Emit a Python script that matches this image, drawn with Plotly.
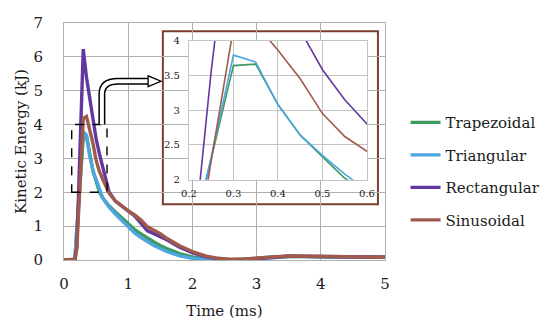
import plotly.graph_objects as go

# ---- data ----
time_ms = [0, 0.1, 0.17, 0.2, 0.25, 0.3, 0.35, 0.4, 0.45, 0.5, 0.55, 0.6, 0.65, 0.7,
           0.8, 0.9, 1.0, 1.1, 1.2, 1.3, 1.4, 1.5, 1.6, 1.8, 2.0, 2.2, 2.4, 2.6,
           2.8, 3.0, 3.25, 3.5, 3.75, 4.0, 4.5, 5.0]

trapezoidal = [0, 0, 0.03, 0.95, 2.30, 3.64, 3.66, 3.08, 2.64, 2.33, 2.02, 1.84, 1.71, 1.60,
               1.42, 1.24, 1.05, 0.90, 0.77, 0.64, 0.53, 0.43, 0.34, 0.19, 0.09, 0.04, 0.01, 0.01,
               0.02, 0.05, 0.09, 0.11, 0.10, 0.09, 0.08, 0.08]

triangular = [0, 0, 0.03, 0.95, 2.32, 3.79, 3.69, 3.08, 2.64, 2.35, 2.08, 1.85, 1.70, 1.57,
              1.36, 1.17, 0.96, 0.80, 0.66, 0.53, 0.43, 0.34, 0.25, 0.12, 0.05, 0.02, 0.00, 0.00,
              0.01, 0.04, 0.08, 0.10, 0.10, 0.09, 0.08, 0.08]

rectangular = [0, 0, 0.0, 0.40, 3.55, 6.23, 5.40, 4.75, 4.15, 3.58, 3.15, 2.80, 2.40, 2.02,
               1.74, 1.58, 1.45, 1.30, 1.08, 0.86, 0.78, 0.70, 0.60, 0.38, 0.22, 0.10, 0.04, 0.01,
               0.01, 0.04, 0.08, 0.11, 0.11, 0.10, 0.09, 0.08]

sinusoidal = [0, 0, 0.02, 0.35, 2.27, 4.18, 4.24, 3.86, 3.45, 2.95, 2.62, 2.40, 2.20, 1.98,
              1.74, 1.58, 1.45, 1.33, 1.18, 0.98, 0.88, 0.78, 0.64, 0.42, 0.25, 0.12, 0.05, 0.02,
              0.03, 0.05, 0.09, 0.12, 0.11, 0.10, 0.09, 0.08]

series_names = ["Trapezoidal", "Triangular", "Rectangular", "Sinusoidal"]
series_values = [trapezoidal, triangular, rectangular, sinusoidal]
series_colors = ["#3C9A5F", "#4DA6DF", "#6237A0", "#A05A4C"]

main_xticks = [0, 1, 2, 3, 4, 5]
main_yticks = [0, 1, 2, 3, 4, 5, 6, 7]
inset_xticks = [0.2, 0.3, 0.4, 0.5, 0.6]
inset_yticks = [2, 2.5, 3, 3.5, 4]

FONT = "DejaVu Serif"
GRID = "#B0B0B0"
FRAME = "#7B3F2E"

fig = go.Figure()

for name, vals, col in zip(series_names, series_values, series_colors):
    fig.add_trace(go.Scatter(x=time_ms, y=vals, mode="lines", name=name,
                             line=dict(color=col, width=3.4),
                             legendgroup=name, xaxis="x", yaxis="y"))

for name, vals, col in zip(series_names, series_values, series_colors):
    fig.add_trace(go.Scatter(x=time_ms, y=vals, mode="lines", name=name,
                             line=dict(color=col, width=1.6), showlegend=False,
                             xaxis="x2", yaxis="y2"))

# inset frame (white card with brown border), drawn under traces of main plot
fig.add_shape(type="rect", xref="x", yref="y", x0=1.54, x1=4.89, y0=1.65, y1=6.76,
              fillcolor="white", line=dict(color=FRAME, width=2), layer="below")

# dashed zoom box
fig.add_shape(type="rect", xref="x", yref="y", x0=0.12, x1=0.67, y0=2, y1=4,
              line=dict(color="black", width=1.4, dash="dash"), layer="above")

# curved arrow
arrow_path = "M 0.59,4 L 0.59,4.9 Q 0.59,5.28 0.84,5.28 L 1.33,5.28"
fig.add_shape(type="path", xref="x", yref="y", path=arrow_path,
              line=dict(color="black", width=7), layer="above")
fig.add_shape(type="path", xref="x", yref="y", path=arrow_path,
              line=dict(color="white", width=4), layer="above")
fig.add_shape(type="path", xref="x", yref="y",
              path="M 1.31,5.12 L 1.51,5.28 L 1.31,5.44 Z",
              fillcolor="white", line=dict(color="black", width=1.3), layer="above")

axis_common = dict(showgrid=True, gridcolor=GRID, gridwidth=1, zeroline=False,
                   showline=True, linecolor=GRID, linewidth=1, mirror=True,
                   ticks="", tickfont=dict(family=FONT, size=15, color="#1a1a1a"))

fig.update_layout(
    width=550, height=336,
    margin=dict(l=56, r=173, t=10, b=84),
    paper_bgcolor="white", plot_bgcolor="white",
    font=dict(family=FONT, color="#1a1a1a"),
    xaxis=dict(range=[0, 5], tickvals=main_xticks, domain=[0, 1],
               title=dict(text="Time (ms)", font=dict(family=FONT, size=15), standoff=13),
               ticklabelstandoff=10, automargin=False, **axis_common),
    yaxis=dict(range=[0, 7], tickvals=main_yticks, domain=[0, 1],
               title=dict(text="Kinetic Energy (kJ)", font=dict(family=FONT, size=15), standoff=3),
               ticklabelstandoff=17, automargin=False, **axis_common),
    xaxis2=dict(range=[0.2, 0.6], tickvals=inset_xticks, domain=[0.389, 0.944], anchor="y2",
                showgrid=True, gridcolor="#C4C4C4", zeroline=False, showline=True,
                linecolor="#C4C4C4", mirror=True, ticks="", ticklabelstandoff=4,
                tickfont=dict(family=FONT, size=10, color="#1a1a1a")),
    yaxis2=dict(range=[2, 4], tickvals=inset_yticks, domain=[0.339, 0.926], anchor="x2",
                showgrid=True, gridcolor="#C4C4C4", zeroline=False, showline=True,
                linecolor="#C4C4C4", mirror=True, ticks="", ticklabelstandoff=6,
                tickfont=dict(family=FONT, size=10, color="#1a1a1a")),
    legend=dict(x=1.064, y=0.375, xanchor="left", yanchor="middle",
                font=dict(family=FONT, size=15, color="#1a1a1a"),
                traceorder="grouped", tracegroupgap=10, bgcolor="rgba(0,0,0,0)"),
    showlegend=True,
)

fig.write_html("out.html")
